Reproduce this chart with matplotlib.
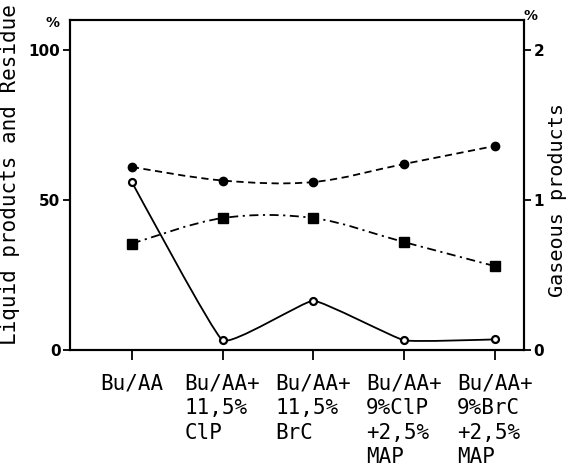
import matplotlib
matplotlib.use("Agg")
import matplotlib.pyplot as plt
import numpy as np
from matplotlib.path import Path
from matplotlib.patches import PathPatch

categories = ["Bu/AA", "Bu/AA+\n11,5%\nClP", "Bu/AA+\n11,5%\nBrC",
              "Bu/AA+\n9%ClP\n+2,5%\nMAP", "Bu/AA+\n9%BrC\n+2,5%\nMAP"]
liquid = [61, 56.5, 56, 62, 68]          # filled circles, %
residue = [35.5, 44, 44, 36, 28]          # filled squares, %
gaseous = [1.12, 0.066, 0.33, 0.066, 0.072]  # open circles, % (right axis)

mono = "DejaVu Sans Mono"


def smooth_path(x, y, tension=1.0):
    # Catmull-Rom curve through the points, written as cubic bezier segments
    pts = np.column_stack([x, y]).astype(float)
    verts = [pts[0]]
    codes = [Path.MOVETO]
    n = len(pts)
    for i in range(n - 1):
        p0 = pts[i - 1] if i > 0 else pts[i]
        p1, p2 = pts[i], pts[i + 1]
        p3 = pts[i + 2] if i + 2 < n else pts[i + 1]
        c1 = p1 + tension * (p2 - p0) / 6
        c2 = p2 - tension * (p3 - p1) / 6
        verts += [c1, c2, p2]
        codes += [Path.CURVE4] * 3
    return Path(verts, codes)


fig = plt.figure(figsize=(5.7, 4.72), dpi=100)
ax = fig.add_axes([0.123, 0.258, 0.796, 0.700])
ax2 = ax.twinx()

xs = np.arange(len(categories))

ax.add_patch(PathPatch(smooth_path(xs, liquid), fill=False, lw=1.3,
                       ls=(0, (4, 2.5)), color="black"))
ax.plot(xs, liquid, "o", color="black", ms=6)

ax.add_patch(PathPatch(smooth_path(xs, residue), fill=False, lw=1.3,
                       ls=(0, (5, 2.5, 1.2, 2.5)), color="black"))
ax.plot(xs, residue, "s", color="black", ms=6.5)

ax2.add_patch(PathPatch(smooth_path(xs, gaseous, tension=0.3), fill=False,
                        lw=1.3, color="black"))
ax2.plot(xs, gaseous, "o", mfc="white", mec="black", mew=1.6, ms=5)

ax.set_xlim(-0.68, 4.32)
ax.set_ylim(0, 110)
ax2.set_ylim(0, 2.2)

ax.set_yticks([0, 50, 100])
ax.set_yticklabels(["0", "50", "100"], fontsize=11, fontweight="bold")
ax2.set_yticks([0, 1, 2])
ax2.set_yticklabels(["0", "1", "2"], fontsize=11, fontweight="bold")
ax.set_xticks(xs)
ax.set_xticklabels(categories, family=mono, fontsize=15,
                   multialignment="left", linespacing=1.28)

ax.tick_params(axis="x", length=7, width=1.3, pad=10)
ax.tick_params(axis="y", length=5, width=1.3, pad=2)
ax2.tick_params(axis="y", length=5, width=1.3, pad=2)

for a in (ax, ax2):
    for s in a.spines.values():
        s.set_linewidth(1.5)

fig.text(0.018, 0.63, "Liquid products and Residue", rotation=90,
         family=mono, fontsize=15, ha="center", va="center")
fig.text(0.978, 0.576, "Gaseous products", rotation=90,
         family=mono, fontsize=14.5, ha="center", va="center")
fig.text(0.092, 0.952, "%", fontsize=10, fontweight="bold",
         ha="center", va="center")
fig.text(0.930, 0.967, "%", fontsize=10, fontweight="bold",
         ha="center", va="center")

fig.savefig("out.png", dpi=100)
